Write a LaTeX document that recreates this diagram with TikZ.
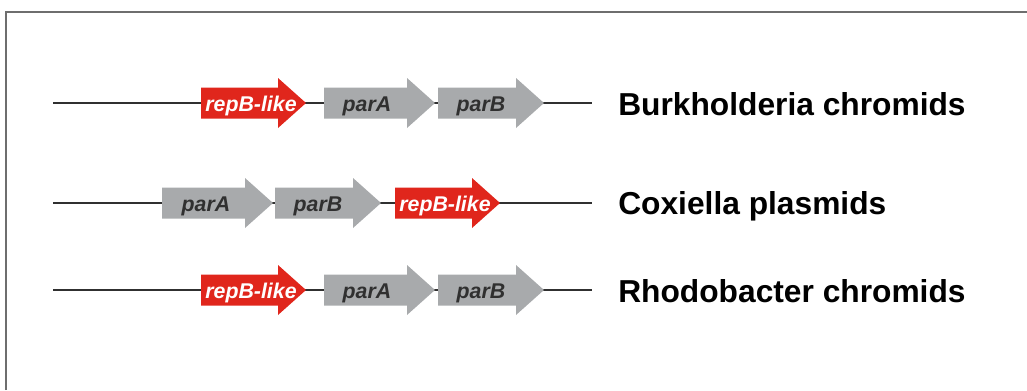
\documentclass[tikz,border=0pt]{standalone}
\usepackage{fontspec}
\setmainfont{Liberation Sans}
\usetikzlibrary{calc}

\definecolor{generouge}{RGB}{224,38,28}
\definecolor{genegris}{RGB}{168,170,172}
\definecolor{textegris}{RGB}{48,48,48}
\definecolor{cadregris}{RGB}{110,110,110}

\tikzset{
  brin/.style={line width=1.5pt, textegris},
  cadre/.style={line width=1.5pt, cadregris},
  generep/.style={fill=generouge, draw=none},
  genepar/.style={fill=genegris, draw=none},
  etiquette/.style={inner sep=0pt, anchor=base, font=\fontsize{16}{19}\selectfont\bfseries\itshape},
  espece/.style={inner sep=0pt, anchor=base west, font=\fontsize{23.8}{28}\selectfont\bfseries}
}

\begin{document}
\begin{tikzpicture}[x=0.75pt,y=-0.75pt]

%%%%%%%%%%%%%%%%%%%%%%
%%%	 Def géométrie  %%%
%%%%%%%%%%%%%%%%%%%%%%

\def \corps{15.5}
\def \tete{25}
\def \pointe{28}
\def \debut{53}
\def \fin{592}
\def \texte{618}

% gène : nom, gauche, longueur du corps, hauteur, style, couleur texte, décalage texte, texte
\def \gene#1#2#3#4#5#6#7#8{
	\draw[#5] (#2,#4-\corps) -- (#2+#3,#4-\corps) -- (#2+#3,#4-\tete)
		-- (#2+#3+\pointe,#4) -- (#2+#3,#4+\tete) -- (#2+#3,#4+\corps)
		-- (#2,#4+\corps) -- cycle;
	\node[etiquette, text=#6] (#1) at (#2+#7,#4+8) {#8};
}

\useasboundingbox (0,0) rectangle (1027,390);

%%%%%%%%%%%%%%%%%%%%%%
%%%	    Cadre       %%%
%%%%%%%%%%%%%%%%%%%%%%

\draw[cadre] (5.5,390) -- (5.5,11.5) -- (1027,11.5);

%%%%%%%%%%%%%%%%%%%%%%
%%%	    Burkholderia %%%
%%%%%%%%%%%%%%%%%%%%%%

\coordinate (b-debut) at (\debut,103);
\coordinate (b-fin) at (\fin,103);
\draw[brin] (b-debut) -- (b-fin);

\gene{b-rep}{201}{77}{103}{generep}{white}{50}{repB-like}
\gene{b-para}{324}{83}{103}{genepar}{textegris}{43}{parA}
\gene{b-parb}{438}{78}{103}{genepar}{textegris}{43}{parB}

\node[espece] (burk) at (\texte,115) {Burkholderia chromids};

%%%%%%%%%%%%%%%%%%%%%%
%%%	    Coxiella     %%%
%%%%%%%%%%%%%%%%%%%%%%

\coordinate (c-debut) at (\debut,203);
\coordinate (c-fin) at (\fin,203);
\draw[brin] (c-debut) -- (c-fin);

\gene{c-para}{162}{83}{203}{genepar}{textegris}{44}{parA}
\gene{c-parb}{275}{78}{203}{genepar}{textegris}{43}{parB}
\gene{c-rep}{395}{77}{203}{generep}{white}{50}{repB-like}

\node[espece] (coxi) at (\texte,214) {Coxiella plasmids};

%%%%%%%%%%%%%%%%%%%%%%
%%%	    Rhodobacter  %%%
%%%%%%%%%%%%%%%%%%%%%%

\coordinate (r-debut) at (\debut,290);
\coordinate (r-fin) at (\fin,290);
\draw[brin] (r-debut) -- (r-fin);

\gene{r-rep}{201}{77}{290}{generep}{white}{50}{repB-like}
\gene{r-para}{324}{83}{290}{genepar}{textegris}{43}{parA}
\gene{r-parb}{438}{78}{290}{genepar}{textegris}{43}{parB}

\node[espece] (rhodo) at (\texte,302) {Rhodobacter chromids};

%%%%%%%%%%%%%%%%%%%%%%%%%%%%%%%%%%%%%%%%%

\end{tikzpicture}
\end{document}
